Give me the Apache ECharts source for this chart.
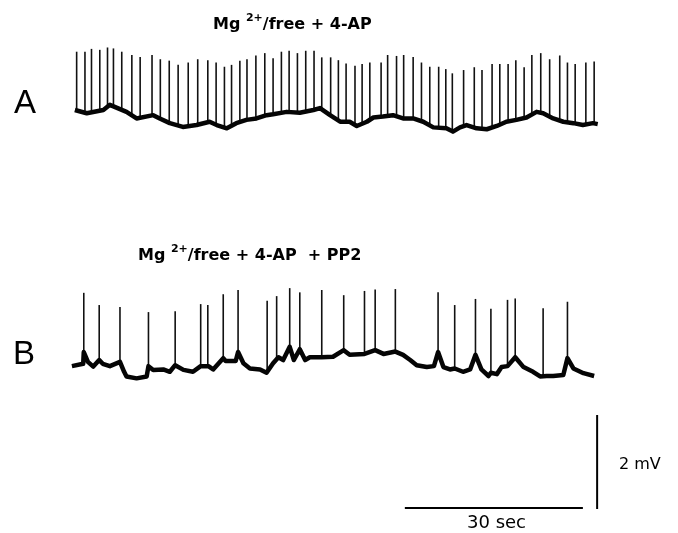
<!DOCTYPE html>
<html>
<head>
<meta charset="utf-8">
<script src="https://cdn.jsdelivr.net/npm/echarts@6/dist/echarts.min.js"></script>
<style>
  html, body { margin: 0; background: #fff; }
  #chart { width: 678px; height: 533px; }
</style>
</head>
<body>
<div id="chart"></div>
<script>
// trace A (Mg2+-free + 4-AP): baseline samples [sec, mV]
const baseA = [
  [0, 8.83], [2.0, 8.76], [4.8, 8.83], [5.9, 8.94], [8.7, 8.79], [10.4, 8.65], [13.2, 8.72],
  [14.3, 8.65], [16.0, 8.55], [18.2, 8.47], [20.5, 8.51], [22.7, 8.58], [23.9, 8.51], [25.6, 8.44],
  [27.2, 8.55], [28.9, 8.62], [30.6, 8.65], [32.3, 8.72], [33.4, 8.74], [35.7, 8.79], [37.9, 8.77],
  [40.2, 8.83], [41.3, 8.87], [43.0, 8.72], [44.7, 8.58], [46.3, 8.58], [47.5, 8.49], [49.2, 8.58],
  [50.3, 8.67], [51.9, 8.69], [53.6, 8.72], [55.3, 8.65], [57.0, 8.65], [58.7, 8.58], [60.4, 8.46],
  [62.6, 8.44], [63.7, 8.37], [64.9, 8.46], [66.0, 8.51], [67.7, 8.44], [69.4, 8.42], [71.1, 8.49],
  [72.7, 8.58], [74.4, 8.62], [76.1, 8.67], [77.8, 8.79], [78.9, 8.76], [80.6, 8.65], [82.3, 8.58],
  [84.0, 8.55], [85.6, 8.51], [87.3, 8.55], [88.1, 8.53]
]
const spikeTimesA = [
  0.3, 1.7, 2.8, 4.2, 5.5, 6.5, 7.9, 9.6, 11.0, 13.0, 14.4, 15.9, 17.4, 19.1, 20.7, 22.4,
  23.8, 25.2, 26.4, 27.8, 29.0, 30.5, 32.0, 33.4, 34.8, 36.1, 37.5, 38.9, 40.3, 41.6, 43.1,
  44.4, 45.7, 47.2, 48.4, 49.7, 51.6, 52.7, 54.2, 55.4, 57.0, 58.4, 59.8, 61.3, 62.5, 63.6,
  65.5, 67.3, 68.6, 70.3, 71.6, 73.0, 74.3, 75.7, 77.0, 78.5, 80.0, 81.7, 83.0, 84.3, 86.1, 87.5
]
const spikePeaksA = [
  10.07, 10.07, 10.13, 10.11, 10.16, 10.14, 10.07, 10.0, 9.96, 10.0, 9.91, 9.88, 9.79, 9.84,
  9.91, 9.89, 9.84, 9.75, 9.79, 9.88, 9.91, 9.99, 10.04, 9.93, 10.07, 10.09, 10.04, 10.09,
  10.09, 9.95, 9.95, 9.89, 9.82, 9.77, 9.81, 9.84, 9.84, 10.0, 9.98, 10.0, 9.96, 9.84, 9.75,
  9.75, 9.70, 9.61, 9.68, 9.74, 9.68, 9.81, 9.81, 9.81, 9.89, 9.74, 10.0, 10.04, 9.91, 9.99,
  9.84, 9.81, 9.84, 9.86
]

// trace B (+ PP2)
const baseB = [
  [-0.5, 3.38], [1.4, 3.43], [1.5, 3.68], [2.2, 3.47], [3.1, 3.37], [4.1, 3.51], [4.7, 3.43],
  [5.9, 3.38], [7.6, 3.47], [8.3, 3.26], [8.7, 3.16], [10.4, 3.12], [12.1, 3.16], [12.4, 3.38],
  [13.2, 3.30], [14.9, 3.31], [16.0, 3.26], [16.9, 3.40], [18.3, 3.30], [19.9, 3.26], [21.2, 3.38],
  [22.5, 3.38], [23.3, 3.31], [25.0, 3.55], [25.4, 3.49], [27.1, 3.49], [27.5, 3.68], [28.4, 3.44],
  [29.5, 3.33], [31.2, 3.31], [32.3, 3.24], [33.4, 3.44], [34.3, 3.57], [35.1, 3.51], [36.2, 3.79],
  [36.9, 3.51], [37.9, 3.74], [38.8, 3.51], [39.6, 3.57], [41.6, 3.57], [43.5, 3.58], [45.3, 3.72],
  [46.3, 3.62], [48.8, 3.64], [50.6, 3.72], [52.0, 3.64], [54.0, 3.69], [55.3, 3.62], [56.5, 3.51],
  [57.6, 3.40], [59.3, 3.36], [60.5, 3.38], [61.2, 3.68], [62.1, 3.36], [63.2, 3.31], [64.0, 3.33],
  [65.4, 3.26], [66.6, 3.31], [67.5, 3.62], [68.5, 3.31], [69.7, 3.17], [70.1, 3.24], [71.1, 3.21],
  [71.9, 3.36], [72.9, 3.38], [74.2, 3.57], [75.6, 3.36], [77.2, 3.26], [78.4, 3.16], [79.5, 3.17],
  [80.6, 3.17], [82.3, 3.19], [83.0, 3.55], [84.0, 3.33], [85.7, 3.23], [87.5, 3.17]
]
const spikeTimesB = [
  1.5, 4.1, 7.6, 12.4, 16.9, 21.2, 22.4, 25.0, 27.5, 32.4, 34.0, 36.2, 37.9, 41.6, 45.3,
  48.8, 50.6, 54.0, 61.2, 64.0, 67.5, 70.1, 72.9, 74.2, 78.9, 83.0
]
const spikePeaksB = [
  4.94, 4.68, 4.64, 4.53, 4.55, 4.70, 4.68, 4.91, 5.00, 4.77, 4.87, 5.04, 4.95, 5.00, 4.89,
  4.98, 5.01, 5.02, 4.95, 4.68, 4.81, 4.60, 4.79, 4.82, 4.61, 4.75
]

// calibration bars: 30 sec and 2 mV
const timeBar = [[55.6, 0.36], [85.6, 0.36]]
const voltBar = [[88.0, 0.34], [88.0, 2.34]]

// where a spike leaves the trace
function baseAt(base, t) {
  for (let i = 1; i < base.length; i++) {
    if (base[i][0] >= t) {
      const a = base[i - 1], b = base[i]
      const k = b[0] === a[0] ? 1 : (t - a[0]) / (b[0] - a[0])
      return a[1] + k * (b[1] - a[1])
    }
  }
  return base[base.length - 1][1]
}

function spikeSeries(base, times, peaks) {
  return {
    type: 'custom',
    z: 3,
    data: times.map((t, i) => [t, peaks[i]]),
    renderItem(params, api) {
      const t = api.value(0)
      const top = api.coord([t, api.value(1)])
      const bot = api.coord([t, baseAt(base, t)])
      return {
        type: 'line',
        shape: { x1: top[0], y1: top[1], x2: bot[0], y2: bot[1] },
        style: { stroke: '#111', lineWidth: 1.6 }
      }
    }
  }
}

function traceSeries(base) {
  return {
    type: 'line',
    data: base,
    showSymbol: false,
    z: 4,
    lineStyle: { color: '#050505', width: 4.5, join: 'round' }
  }
}

const font = 'Liberation Sans'
const titleFont = 'DejaVu Sans'
const rich = {
  b: { fontFamily: titleFont, fontWeight: 'bold', fontSize: 16, color: '#000', lineHeight: 20, verticalAlign: 'bottom' },
  s: { fontFamily: titleFont, fontWeight: 'bold', fontSize: 11, color: '#000', lineHeight: 20, verticalAlign: 'top' }
}

const chart = echarts.init(document.getElementById('chart'))
chart.setOption({
  animation: false,
  backgroundColor: '#fff',
  title: [
    { text: '{b|Mg }{s|2+}{b|/free + 4-AP}', left: 213, top: 13, padding: 0, textStyle: { rich } },
    { text: '{b|Mg }{s|2+}{b|/free + 4-AP  + PP2}', left: 138, top: 244, padding: 0, textStyle: { rich } }
  ],
  grid: { left: 63, right: 69, top: 8, bottom: 8 },
  xAxis: { type: 'value', min: -2, max: 90, show: false },
  yAxis: { type: 'value', min: 0, max: 11, show: false },
  graphic: [
    { type: 'text', x: 14, y: 104, style: { text: 'A', fontFamily: font, fontSize: 33, fill: '#000', verticalAlign: 'middle' } },
    { type: 'text', x: 13, y: 355, style: { text: 'B', fontFamily: font, fontSize: 33, fill: '#000', verticalAlign: 'middle' } },
    { type: 'text', x: 619, y: 465, style: { text: '2 mV', fontFamily: titleFont, fontSize: 16, fill: '#000', verticalAlign: 'middle' } },
    { type: 'text', x: 467, y: 523, style: { text: '30 sec', fontFamily: titleFont, fontSize: 18, fill: '#000', verticalAlign: 'middle' } }
  ],
  series: [
    traceSeries(baseA),
    spikeSeries(baseA, spikeTimesA, spikePeaksA),
    traceSeries(baseB),
    spikeSeries(baseB, spikeTimesB, spikePeaksB),
    { type: 'line', data: timeBar, showSymbol: false, lineStyle: { color: '#000', width: 2 } },
    { type: 'line', data: voltBar, showSymbol: false, lineStyle: { color: '#000', width: 2 } }
  ]
})
</script>
</body>
</html>
